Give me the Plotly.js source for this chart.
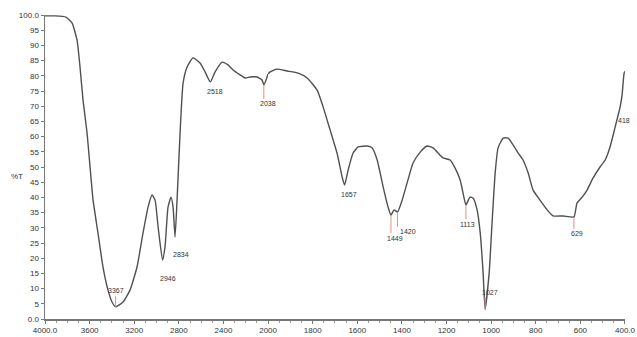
<!DOCTYPE html>
<html>
<head>
<meta charset="utf-8">
<script src="https://cdn.plot.ly/plotly-3.0.1.min.js"></script>
<style>html,body{margin:0;padding:0;background:#fff;}#chart{width:637px;height:337px;}</style>
</head>
<body>
<div id="chart"></div>
<script>
// Spectrum (wavenumber cm-1, %T)
const wavenumber = [4000,3910,3812,3758,3713,3686,3659,3623,3596,3569,3525,3480,3435,3399,3367,3300,3238,3175,3121,3076,3040,3013,2986,2946,2924,2897,2870,2852,2834,2816,2789,2762,2726,2673,2610,2565,2518,2475,2412,2359,2314,2251,2206,2161,2098,2054,2038,2000,
  1991,1960,1915,1865,1825,1780,1753,1722,1691,1668,1657,1641,1619,1596,1556,1534,1511,1484,1462,1449,1435,1420,1399,1377,1350,1318,1287,1260,1229,1216,1184,1162,1139,1126,1113,1095,1081,1063,1049,1036,1027,1009,996,982,969,946,924,901,879,857,834,812,781,749,722,677,629,615,592,570,543,512,489,467,444,422,413,404,400];
const transmittance = [99.7,99.7,99.3,97.4,91.8,82.9,72.0,61.2,50.0,39.1,28.3,17.1,9.5,5.6,4.0,5.6,9.5,17.1,28.3,36.8,40.8,39.1,30.3,19.4,23.7,36.8,40.1,36.8,27.0,39.1,61.2,77.6,82.9,85.9,84.2,81.3,78.0,81.3,84.5,83.6,81.9,80.3,79.3,79.6,79.6,78.6,77.0,80.6,
  81.3,82.2,81.6,80.9,79.3,75.3,69.7,62.2,54.6,46.7,44.1,49.0,54.6,56.6,56.9,56.3,52.3,43.4,36.8,34.2,35.9,35.2,39.1,44.7,51.3,54.9,56.9,56.3,53.9,53.0,52.3,49.7,45.7,41.4,37.5,40.1,39.8,35.9,28.3,15.1,3.2,15.1,31.6,48.0,56.3,59.5,59.5,57.2,54.6,52.3,48.0,42.4,39.1,35.9,33.9,33.9,33.6,38.2,40.1,42.4,46.4,50.0,52.3,56.6,63.2,69.7,73.7,80.9,81.5];

// Peak labels
const peakLabels = ['3367','2946','2834','2518','2038','1657','1449','1420','1113','1027','629','418'];
const peakWn     = [3367,2946,2834,2518,2038,1657,1449,1420,1113,1027,629,418];
const peakT      = [4.0,19.4,27.0,78.0,77.0,44.1,34.2,35.2,37.5,3.2,33.6,66.0];

// Axis ticks
const xTicksHigh = [4000,3600,3200,2800,2400];
const xTickTextHigh = ['4000.0','3600','3200','2800','2400'];
const xTicksLow = [2000,1800,1600,1400,1200,1000,800,600,400];
const xTickTextLow = ['2000','1800','1600','1400','1200','1000','800','600','400.0'];
const yTicks = [0,5,10,15,20,25,30,35,40,45,50,55,60,65,70,75,80,85,90,95,100];
const yTickText = ['0.0','5','10','15','20','25','30','35','40','45','50','55','60','65','70','75','80','85','90','95','100.0'];

// label placement styling (pixel offsets) and red marker direction
const labelStyle = {
  '3367':{dx:0,dy:-16,red:1},'2946':{dx:5,dy:18,red:0},'2834':{dx:6,dy:18,red:0},
  '2518':{dx:5,dy:10,red:0},'2038':{dx:4,dy:19,red:1},'1657':{dx:4,dy:10,red:0},
  '1449':{dx:4,dy:23,red:1},'1420':{dx:11,dy:20,red:1},'1113':{dx:2,dy:19,red:1},
  '1027':{dx:5,dy:-17,red:1},'629':{dx:3,dy:17,red:1},'418':{dx:3,dy:2,red:0}
};

const hi = {x:[],y:[]}, lo = {x:[],y:[]};
wavenumber.forEach((w,i)=>{
  if (w >= 2000) { hi.x.push(w); hi.y.push(transmittance[i]); }
  if (w <= 2000) { lo.x.push(w); lo.y.push(transmittance[i]); }
});
const lineStyle = {color:'#505050', width:1.4, shape:'spline', smoothing:0.5};
const traces = [
  {x:hi.x, y:hi.y, xaxis:'x', yaxis:'y', type:'scatter', mode:'lines', line:lineStyle, hoverinfo:'skip', cliponaxis:false},
  {x:lo.x, y:lo.y, xaxis:'x2', yaxis:'y', type:'scatter', mode:'lines', line:lineStyle, hoverinfo:'skip', cliponaxis:false}
];

const annotations = [], shapes = [];
peakLabels.forEach((lab,i)=>{
  const s = labelStyle[lab];
  const xr = peakWn[i] > 2000 ? 'x' : 'x2';
  annotations.push({x:peakWn[i], y:peakT[i], xref:xr, yref:'y', text:lab, showarrow:false,
    xshift:s.dx, yshift:-s.dy, font:{family:'Liberation Sans, Arial', size:7, color:'#333'}});
  if (s.red) {
    const len = Math.abs(s.dy) - 5;
    shapes.push({type:'line', xref:xr, yref:'y', xsizemode:'data', ysizemode:'pixel', yanchor:peakT[i],
      x0:peakWn[i], x1:peakWn[i], y0:0, y1: s.dy > 0 ? -len : len, line:{color:'#ee8a8a', width:1}});
  }
});
annotations.push({xref:'paper', yref:'paper', x:-0.048, y:0.47, text:'%T', showarrow:false,
  xanchor:'center', font:{family:'Liberation Sans, Arial', size:8, color:'#333'}});

const axisCommon = {showgrid:false, zeroline:false, showline:true, linecolor:'#777', linewidth:1.5,
  ticks:'outside', ticklen:3, tickcolor:'#777', tickfont:{family:'Liberation Sans, Arial', size:8, color:'#333'},
  automargin:false, fixedrange:true};

const layout = {
  width:637, height:337, margin:{l:45, r:12, t:15, b:18},
  paper_bgcolor:'#fff', plot_bgcolor:'#fff', showlegend:false,
  xaxis: Object.assign({}, axisCommon, {domain:[0,5/13], range:[4000,2000], tickmode:'array', tickvals:xTicksHigh, ticktext:xTickTextHigh, anchor:'y',
    minor:{dtick:100, ticks:'outside', ticklen:2, tickcolor:'#999'}}),
  xaxis2: Object.assign({}, axisCommon, {domain:[5/13,1], range:[2000,400], tickmode:'array', tickvals:xTicksLow, ticktext:xTickTextLow, anchor:'y',
    minor:{dtick:50, ticks:'outside', ticklen:2, tickcolor:'#999'}}),
  yaxis: Object.assign({}, axisCommon, {range:[0,100], tickmode:'array', tickvals:yTicks, ticktext:yTickText, ticklen:3}),
  annotations: annotations, shapes: shapes
};
Plotly.newPlot('chart', traces, layout, {displayModeBar:false, staticPlot:true});
</script>
</body>
</html>
